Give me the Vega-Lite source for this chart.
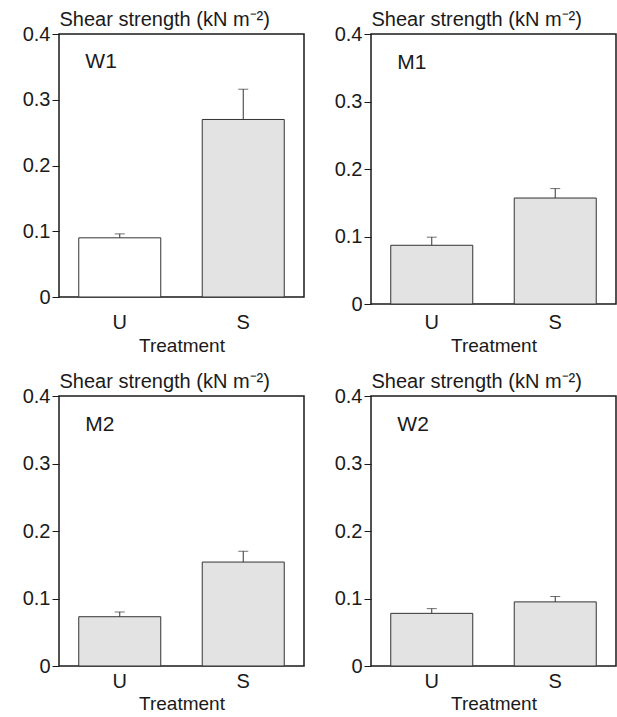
{
  "$schema": "https://vega.github.io/schema/vega-lite/v6.json",
  "padding": {"left": 21, "top": 8, "right": 0, "bottom": 0},
  "background": "white",
  "datasets": {
    "shear": [
      {"site": "W1", "treatment": "U", "mean": 0.090, "upper": 0.096},
      {"site": "W1", "treatment": "S", "mean": 0.270, "upper": 0.316},
      {"site": "M1", "treatment": "U", "mean": 0.087, "upper": 0.099},
      {"site": "M1", "treatment": "S", "mean": 0.157, "upper": 0.171},
      {"site": "M2", "treatment": "U", "mean": 0.073, "upper": 0.080},
      {"site": "M2", "treatment": "S", "mean": 0.154, "upper": 0.170},
      {"site": "W2", "treatment": "U", "mean": 0.078, "upper": 0.085},
      {"site": "W2", "treatment": "S", "mean": 0.095, "upper": 0.103}
    ]
  },
  "data": {"name": "shear"},
  "columns": 2,
  "spacing": {"row": 14, "column": 28},
  "concat": [
    {
      "width": 245, "height": 263,
      "transform": [{"filter": "datum.site == 'W1'"}],
      "encoding": {"x": {"field": "treatment", "type": "nominal", "sort": ["U", "S"], "scale": {"paddingInner": 0.336, "paddingOuter": 0.16}, "axis": {"title": "Treatment", "labelAngle": 0, "ticks": false, "labelPadding": 15, "titlePadding": 4}}},
      "layer": [
        {"mark": {"type": "bar", "stroke": "#333333", "strokeWidth": 1}, "encoding": {"y": {"field": "mean", "type": "quantitative", "scale": {"domain": [0, 0.4]}, "axis": {"title": "Shear strength (kN m⁻²)", "titleAngle": 0, "titleAlign": "left", "titleX": 0, "titleY": -9, "titleBaseline": "alphabetic", "titleFontSize": 20, "values": [0, 0.1, 0.2, 0.3, 0.4], "format": "~g", "tickSize": 7, "labelPadding": 2}}, "fill": {"condition": {"test": "datum.site == 'W1' && datum.treatment == 'U'", "value": "white"}, "value": "#e3e3e3"}}},
        {"mark": {"type": "rule", "color": "#333333", "strokeWidth": 1}, "encoding": {"y": {"field": "mean", "type": "quantitative"}, "y2": {"field": "upper"}}},
        {"mark": {"type": "tick", "color": "#333333", "size": 10, "thickness": 1}, "encoding": {"y": {"field": "upper", "type": "quantitative"}}},
        {"transform": [{"filter": "datum.treatment == 'U'"}], "mark": {"type": "text", "align": "left", "baseline": "middle", "fontSize": 21, "color": "#1a1a1a"}, "encoding": {"x": {"field": "treatment", "type": "nominal", "sort": ["U", "S"], "bandPosition": 0.08}, "y": {"datum": 0.357, "type": "quantitative"}, "text": {"field": "site"}}}
      ]
    },
    {
      "width": 245, "height": 270,
      "transform": [{"filter": "datum.site == 'M1'"}],
      "encoding": {"x": {"field": "treatment", "type": "nominal", "sort": ["U", "S"], "scale": {"paddingInner": 0.336, "paddingOuter": 0.16}, "axis": {"title": "Treatment", "labelAngle": 0, "ticks": false, "labelPadding": 8, "titlePadding": 4}}},
      "layer": [
        {"mark": {"type": "bar", "stroke": "#333333", "strokeWidth": 1}, "encoding": {"y": {"field": "mean", "type": "quantitative", "scale": {"domain": [0, 0.4]}, "axis": {"title": "Shear strength (kN m⁻²)", "titleAngle": 0, "titleAlign": "left", "titleX": 0, "titleY": -9, "titleBaseline": "alphabetic", "titleFontSize": 20, "values": [0, 0.1, 0.2, 0.3, 0.4], "format": "~g", "tickSize": 7, "labelPadding": 2}}, "fill": {"condition": {"test": "datum.site == 'W1' && datum.treatment == 'U'", "value": "white"}, "value": "#e3e3e3"}}},
        {"mark": {"type": "rule", "color": "#333333", "strokeWidth": 1}, "encoding": {"y": {"field": "mean", "type": "quantitative"}, "y2": {"field": "upper"}}},
        {"mark": {"type": "tick", "color": "#333333", "size": 10, "thickness": 1}, "encoding": {"y": {"field": "upper", "type": "quantitative"}}},
        {"transform": [{"filter": "datum.treatment == 'U'"}], "mark": {"type": "text", "align": "left", "baseline": "middle", "fontSize": 21, "color": "#1a1a1a"}, "encoding": {"x": {"field": "treatment", "type": "nominal", "sort": ["U", "S"], "bandPosition": 0.08}, "y": {"datum": 0.357, "type": "quantitative"}, "text": {"field": "site"}}}
      ]
    },
    {
      "width": 245, "height": 270,
      "transform": [{"filter": "datum.site == 'M2'"}],
      "encoding": {"x": {"field": "treatment", "type": "nominal", "sort": ["U", "S"], "scale": {"paddingInner": 0.336, "paddingOuter": 0.16}, "axis": {"title": "Treatment", "labelAngle": 0, "ticks": false, "labelPadding": 5, "titlePadding": 3}}},
      "layer": [
        {"mark": {"type": "bar", "stroke": "#333333", "strokeWidth": 1}, "encoding": {"y": {"field": "mean", "type": "quantitative", "scale": {"domain": [0, 0.4]}, "axis": {"title": "Shear strength (kN m⁻²)", "titleAngle": 0, "titleAlign": "left", "titleX": 0, "titleY": -9, "titleBaseline": "alphabetic", "titleFontSize": 20, "values": [0, 0.1, 0.2, 0.3, 0.4], "format": "~g", "tickSize": 7, "labelPadding": 2}}, "fill": {"condition": {"test": "datum.site == 'W1' && datum.treatment == 'U'", "value": "white"}, "value": "#e3e3e3"}}},
        {"mark": {"type": "rule", "color": "#333333", "strokeWidth": 1}, "encoding": {"y": {"field": "mean", "type": "quantitative"}, "y2": {"field": "upper"}}},
        {"mark": {"type": "tick", "color": "#333333", "size": 10, "thickness": 1}, "encoding": {"y": {"field": "upper", "type": "quantitative"}}},
        {"transform": [{"filter": "datum.treatment == 'U'"}], "mark": {"type": "text", "align": "left", "baseline": "middle", "fontSize": 21, "color": "#1a1a1a"}, "encoding": {"x": {"field": "treatment", "type": "nominal", "sort": ["U", "S"], "bandPosition": 0.08}, "y": {"datum": 0.357, "type": "quantitative"}, "text": {"field": "site"}}}
      ]
    },
    {
      "width": 245, "height": 270,
      "transform": [{"filter": "datum.site == 'W2'"}],
      "encoding": {"x": {"field": "treatment", "type": "nominal", "sort": ["U", "S"], "scale": {"paddingInner": 0.336, "paddingOuter": 0.16}, "axis": {"title": "Treatment", "labelAngle": 0, "ticks": false, "labelPadding": 5, "titlePadding": 3}}},
      "layer": [
        {"mark": {"type": "bar", "stroke": "#333333", "strokeWidth": 1}, "encoding": {"y": {"field": "mean", "type": "quantitative", "scale": {"domain": [0, 0.4]}, "axis": {"title": "Shear strength (kN m⁻²)", "titleAngle": 0, "titleAlign": "left", "titleX": 0, "titleY": -9, "titleBaseline": "alphabetic", "titleFontSize": 20, "values": [0, 0.1, 0.2, 0.3, 0.4], "format": "~g", "tickSize": 7, "labelPadding": 2}}, "fill": {"condition": {"test": "datum.site == 'W1' && datum.treatment == 'U'", "value": "white"}, "value": "#e3e3e3"}}},
        {"mark": {"type": "rule", "color": "#333333", "strokeWidth": 1}, "encoding": {"y": {"field": "mean", "type": "quantitative"}, "y2": {"field": "upper"}}},
        {"mark": {"type": "tick", "color": "#333333", "size": 10, "thickness": 1}, "encoding": {"y": {"field": "upper", "type": "quantitative"}}},
        {"transform": [{"filter": "datum.treatment == 'U'"}], "mark": {"type": "text", "align": "left", "baseline": "middle", "fontSize": 21, "color": "#1a1a1a"}, "encoding": {"x": {"field": "treatment", "type": "nominal", "sort": ["U", "S"], "bandPosition": 0.08}, "y": {"datum": 0.357, "type": "quantitative"}, "text": {"field": "site"}}}
      ]
    }
  ],
  "config": {
    "font": "Liberation Sans",
    "view": {"stroke": "#1a1a1a", "strokeWidth": 1.5},
    "axis": {"labelFontSize": 20, "titleFontSize": 19, "labelColor": "#1a1a1a", "titleColor": "#1a1a1a", "titleFontWeight": "normal", "grid": false, "domain": false, "tickColor": "#1a1a1a", "labelFont": "Liberation Sans", "titleFont": "Liberation Sans"}
  }
}
